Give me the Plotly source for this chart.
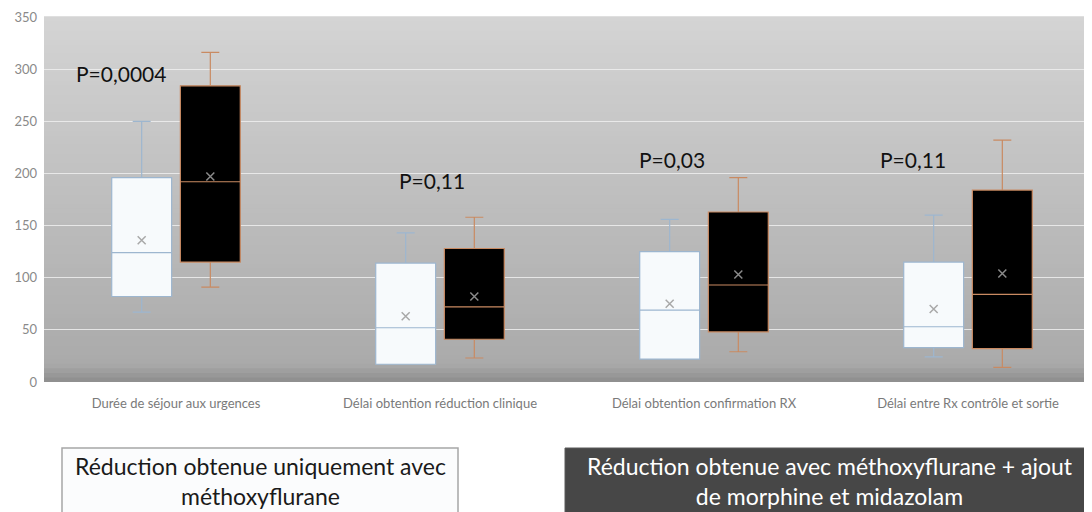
import plotly.graph_objects as go

# ---------------- data ----------------
categories = [
    "Durée de séjour aux urgences",
    "Délai obtention réduction clinique",
    "Délai obtention confirmation RX",
    "Délai entre Rx contrôle et sortie",
]
# Group A: réduction obtenue uniquement avec méthoxyflurane (white boxes)
a_lower = [67, 17, 22, 24]
a_q1 = [82, 17, 22, 33]
a_median = [124, 52, 69, 53]
a_q3 = [196, 114, 125, 115]
a_upper = [250, 143, 156, 160]
a_mean = [136, 63, 75, 70]
# Group B: méthoxyflurane + morphine et midazolam (black boxes)
b_lower = [91, 23, 29, 14]
b_q1 = [115, 41, 48, 32]
b_median = [192, 72, 93, 84]
b_q3 = [284, 128, 163, 184]
b_upper = [316, 158, 196, 232]
b_mean = [197, 82, 103, 104]
p_values = ["P=0,0004", "P=0,11", "P=0,03", "P=0,11"]
y_ticks = [0, 50, 100, 150, 200, 250, 300, 350]
legend_a = "Réduction obtenue uniquement avec<br>méthoxyflurane"
legend_b = "Réduction obtenue avec méthoxyflurane + ajout<br>de morphine et midazolam"

# ---------------- layout constants ----------------
OFF = 8                       # default page body margin
W, H = 1092 - OFF, 512 - OFF
ML, MR, MT, MB = 36, 0, 9, 130
PW, PH = W - ML - MR, H - MT - MB
OFFSET = 0.13
BOXW = 0.227
FONT = "Lato, 'Open Sans', sans-serif"

def px_x(px):
    return (px - OFF - ML) / PW

def px_y(py):
    return (H - MB - (py - OFF)) / PH

idx = list(range(len(categories)))
xa = [i - OFFSET for i in idx]
xb = [i + OFFSET for i in idx]

fig = go.Figure()

fig.add_trace(go.Box(
    x=xa, q1=a_q1, median=a_median, q3=a_q3,
    lowerfence=a_lower, upperfence=a_upper,
    width=BOXW, whiskerwidth=0.3,
    fillcolor="#f7fafc", line=dict(color="#9db6cf", width=1.2),
    showlegend=False, hoverinfo="skip",
))
fig.add_trace(go.Box(
    x=xb, q1=b_q1, median=b_median, q3=b_q3,
    lowerfence=b_lower, upperfence=b_upper,
    width=BOXW, whiskerwidth=0.3,
    fillcolor="#000000", line=dict(color="#c98a62", width=1.2),
    showlegend=False, hoverinfo="skip",
))
fig.add_trace(go.Scatter(
    x=xa, y=a_mean, mode="markers",
    marker=dict(symbol="x-thin", size=8, line=dict(color="#a8a8a8", width=1.5)),
    showlegend=False, hoverinfo="skip",
))
fig.add_trace(go.Scatter(
    x=xb, y=b_mean, mode="markers",
    marker=dict(symbol="x-thin", size=8, line=dict(color="#8a8a8a", width=1.5)),
    showlegend=False, hoverinfo="skip",
))

# gradient background of plot area
shapes = []
N = 80
for k in range(N):
    t0, t1 = k / N, (k + 1) / N
    tm = (t0 + t1) / 2
    v = 168 + (212 - 168) * tm
    if tm < 0.045:
        v = 140 + (168 - 140) * (tm / 0.045)
    v = int(round(v))
    shapes.append(dict(type="rect", xref="paper", yref="paper",
                       x0=0, x1=1, y0=t0, y1=t1 + 0.002,
                       fillcolor=f"rgb({v},{v},{v})", line=dict(width=0),
                       layer="below"))

# legend boxes
shapes.append(dict(type="rect", xref="paper", yref="paper",
                   x0=px_x(62), x1=px_x(458), y0=px_y(530), y1=px_y(448),
                   fillcolor="#fbfcfd", line=dict(color="#a6a6a6", width=1.5),
                   layer="above"))
shapes.append(dict(type="rect", xref="paper", yref="paper",
                   x0=px_x(565), x1=px_x(1100), y0=px_y(530), y1=px_y(448),
                   fillcolor="#474747", line=dict(color="#5a5a5a", width=1),
                   layer="above"))

annotations = []
p_pos = [(-0.21, 296), (-0.03, 193), (-0.12, 213), (-0.21, 213)]
for i, (p, (dx, yy)) in enumerate(zip(p_values, p_pos)):
    annotations.append(dict(x=i + dx, y=yy, xref="x", yref="y", text=p,
                            showarrow=False, xanchor="center", yanchor="middle",
                            font=dict(family=FONT, size=21, color="#111111")))
annotations.append(dict(x=px_x(260), y=px_y(481), xref="paper", yref="paper",
                        text=legend_a, showarrow=False, align="center",
                        xanchor="center", yanchor="middle",
                        font=dict(family=FONT, size=23, color="#1a1a1a")))
annotations.append(dict(x=px_x(830), y=px_y(481), xref="paper", yref="paper",
                        text=legend_b, showarrow=False, align="center",
                        xanchor="center", yanchor="middle",
                        font=dict(family=FONT, size=23, color="#ffffff")))

fig.update_layout(
    width=W, height=H,
    margin=dict(l=ML, r=MR, t=MT, b=MB),
    paper_bgcolor="white", plot_bgcolor="#bdbdbd",
    shapes=shapes, annotations=annotations,
    xaxis=dict(range=[-0.5, -0.5 + PW / 264], tickvals=idx, ticktext=categories,
               showgrid=False, zeroline=False, showline=False, ticks="",
               ticklabelstandoff=12,
               tickfont=dict(family=FONT, size=13, color="#7a7a7a")),
    yaxis=dict(range=[0, 350], tickvals=y_ticks, showgrid=True,
               gridcolor="rgba(238,238,238,0.85)", gridwidth=1,
               zeroline=False, showline=False, ticks="",
               ticklabelstandoff=6,
               tickfont=dict(family=FONT, size=13, color="#8a8a8a")),
    showlegend=False,
)

fig.write_html("out.html")
